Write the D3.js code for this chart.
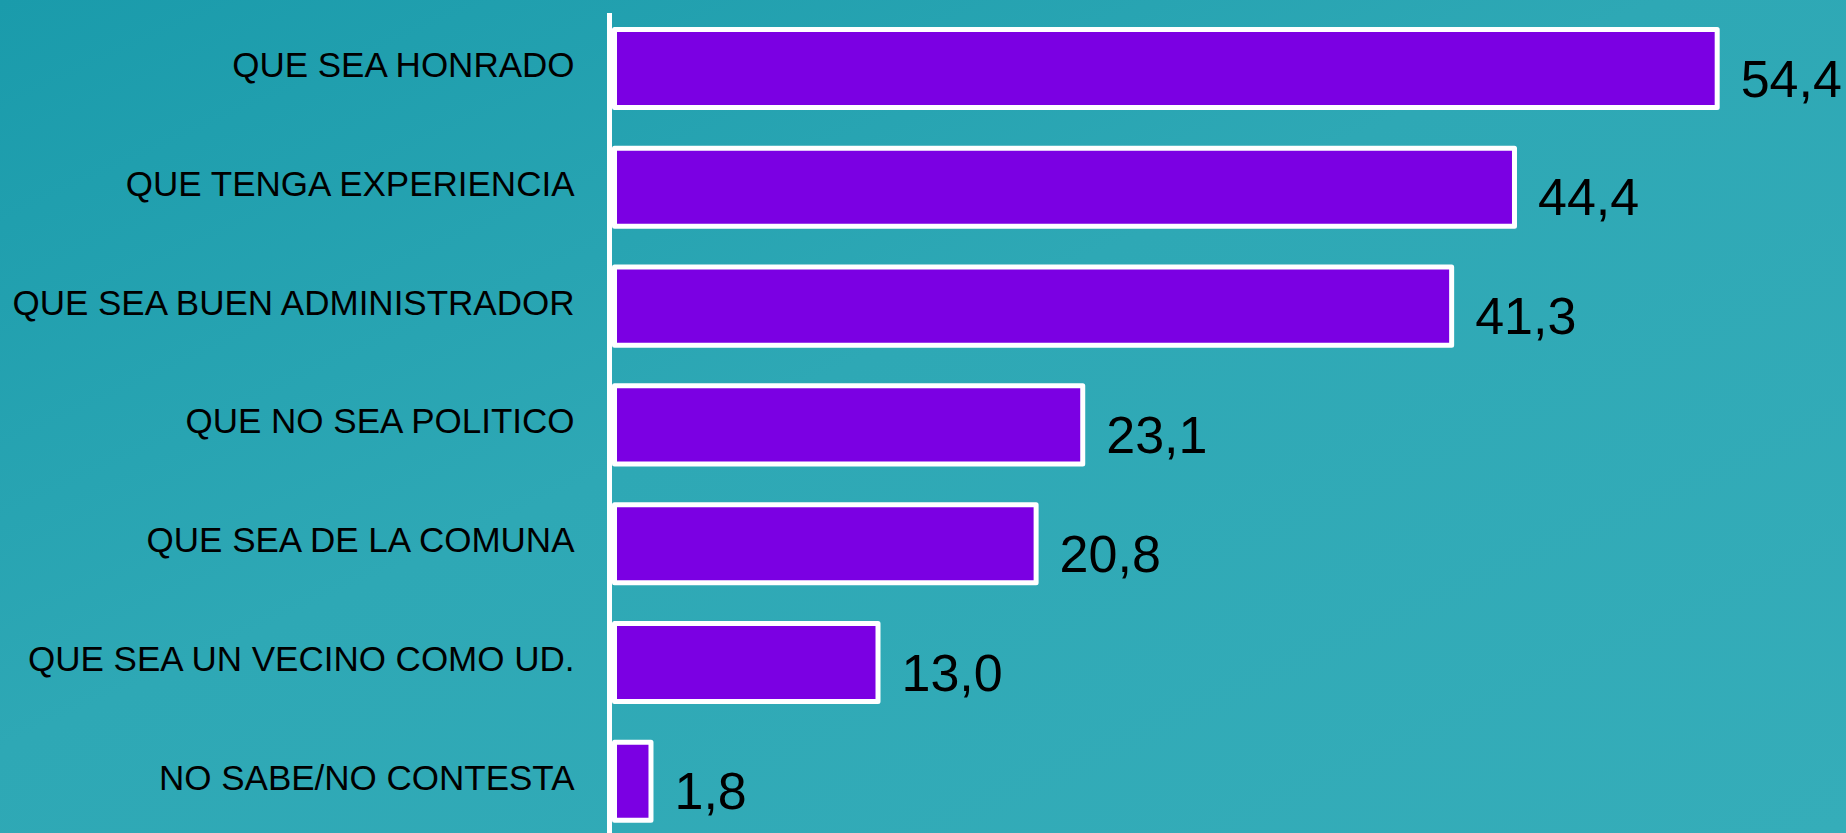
<!DOCTYPE html>
<html>
<head>
<meta charset="utf-8">
<script src="https://cdn.jsdelivr.net/npm/d3@7"></script>
<style>
  html, body { margin: 0; padding: 0; overflow: hidden; }
  svg { display: block; }
</style>
</head>
<body>
<div class="canvas"></div>
<script>
// data
const categories = [
  "QUE SEA HONRADO",
  "QUE TENGA EXPERIENCIA",
  "QUE SEA BUEN ADMINISTRADOR",
  "QUE NO SEA POLITICO",
  "QUE SEA DE LA COMUNA",
  "QUE SEA UN VECINO COMO UD.",
  "NO SABE/NO CONTESTA"
];
const values = [54.4, 44.4, 41.3, 23.1, 20.8, 13.0, 1.8];
const valueLabels = ["54,4", "44,4", "41,3", "23,1", "20,8", "13,0", "1,8"];

const dims = { width: 1846, height: 833 };
const axisX = 609.5;
const barX = 614.5;

const svg = d3
  .select(".canvas")
  .append("svg")
  .attr("width", dims.width)
  .attr("height", dims.height);

// background gradient
const grad = svg
  .append("defs")
  .append("linearGradient")
  .attr("id", "bg")
  .attr("x1", 0)
  .attr("y1", 0)
  .attr("x2", 1)
  .attr("y2", 1);
grad.append("stop").attr("offset", "0%").attr("stop-color", "#1a9bab");
grad.append("stop").attr("offset", "45%").attr("stop-color", "#2ea8b5");
grad.append("stop").attr("offset", "100%").attr("stop-color", "#35adb9");

svg
  .append("rect")
  .attr("width", dims.width)
  .attr("height", dims.height)
  .attr("fill", "url(#bg)");

const x = d3.scaleLinear().domain([0, 60]).range([barX, barX + 60 * 20.27]);

// step ~118.8px, bar ~78px
const y = d3
  .scaleBand()
  .domain(categories)
  .range([9.1, 840.7])
  .paddingInner(0.343)
  .paddingOuter(0.1715);

const rows = categories.map((c, i) => ({
  name: c,
  value: values[i],
  label: valueLabels[i]
}));

// bars
svg
  .append("g")
  .selectAll("rect")
  .data(rows)
  .enter()
  .append("rect")
  .attr("x", x(0))
  .attr("y", (d) => y(d.name))
  .attr("width", (d) => x(d.value) - x(0))
  .attr("height", y.bandwidth())
  .attr("fill", "#7b00e3")
  .attr("stroke", "#fff")
  .attr("stroke-width", 5)
  .attr("stroke-linejoin", "round");

// vertical axis line
svg
  .append("line")
  .attr("x1", axisX)
  .attr("x2", axisX)
  .attr("y1", 13)
  .attr("y2", dims.height)
  .attr("stroke", "#fff")
  .attr("stroke-width", 5);

// category labels
svg
  .append("g")
  .selectAll("text")
  .data(rows)
  .enter()
  .append("text")
  .attr("x", 574.5)
  .attr("y", (d) => y(d.name) + y.bandwidth() / 2 + 8.5)
  .attr("text-anchor", "end")
  .attr("font-family", "Liberation Sans, Arial, sans-serif")
  .attr("font-size", 35)
  .attr("fill", "#000")
  .text((d) => d.name);

// value labels
svg
  .append("g")
  .selectAll("text")
  .data(rows)
  .enter()
  .append("text")
  .attr("x", (d) => x(d.value) + 2.5 + 21)
  .attr("y", (d) => y(d.name) + y.bandwidth() / 2 + 28)
  .attr("font-family", "Liberation Sans, Arial, sans-serif")
  .attr("font-size", 52)
  .attr("fill", "#000")
  .text((d) => d.label);
</script>
</body>
</html>
